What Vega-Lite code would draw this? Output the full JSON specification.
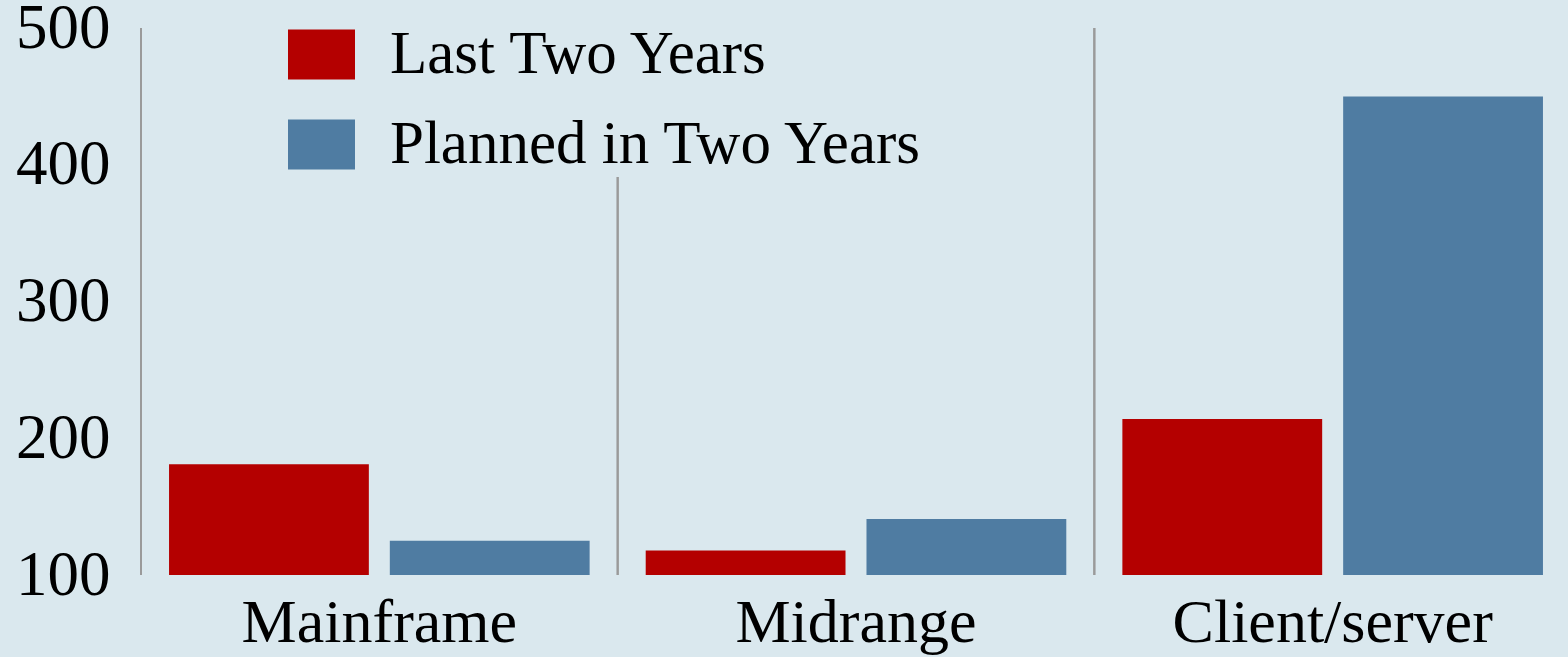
{
  "$schema": "https://vega.github.io/schema/vega-lite/v6.json",
  "autosize": "none",
  "width": 1430,
  "height": 547,
  "padding": {"left": 141, "top": 28, "right": 0, "bottom": 82},
  "background": "#dae8ee",
  "config": {
    "view": {"stroke": null},
    "font": "Liberation Serif",
    "axis": {"labelFont": "Liberation Serif", "labelColor": "#000000", "ticks": false, "domain": false, "grid": false, "title": null, "labelLimit": 1000},
    "axisX": {"labelAngle": 0, "labelFontSize": 62, "labelPadding": 17},
    "axisY": {"labelFontSize": 63, "labelPadding": 31}
  },
  "data": {
    "values": [
      {"platform": "Mainframe", "period": "Last Two Years", "value": 181},
      {"platform": "Mainframe", "period": "Planned in Two Years", "value": 125},
      {"platform": "Midrange", "period": "Last Two Years", "value": 118},
      {"platform": "Midrange", "period": "Planned in Two Years", "value": 141},
      {"platform": "Client/server", "period": "Last Two Years", "value": 214},
      {"platform": "Client/server", "period": "Planned in Two Years", "value": 450}
    ]
  },
  "layer": [
    {
      "mark": {"type": "rule", "color": "#9a9a9a", "strokeWidth": 2},
      "encoding": {
        "x": {"field": "platform", "type": "nominal", "bandPosition": 0,
              "sort": ["Mainframe", "Midrange", "Client/server"],
              "scale": {"paddingInner": 0, "paddingOuter": 0}}
      }
    },
    {
      "mark": {"type": "bar"},
      "encoding": {
        "x": {
          "field": "platform", "type": "nominal",
          "sort": ["Mainframe", "Midrange", "Client/server"],
          "scale": {"paddingInner": 0, "paddingOuter": 0}
        },
        "xOffset": {
          "field": "period", "type": "nominal",
          "sort": ["Last Two Years", "Planned in Two Years"],
          "scale": {"paddingInner": 0.095, "paddingOuter": 0.127}
        },
        "y": {
          "field": "value", "type": "quantitative",
          "scale": {"domain": [100, 500], "zero": false, "nice": false},
          "axis": {"values": [100, 200, 300, 400, 500]}
        },
        "y2": {"datum": 100},
        "color": {
          "field": "period", "type": "nominal",
          "sort": ["Last Two Years", "Planned in Two Years"],
          "scale": {"domain": ["Last Two Years", "Planned in Two Years"], "range": ["#b40000", "#4f7ca2"]},
          "legend": {
            "title": null,
            "orient": "none",
            "legendX": 145,
            "legendY": -9,
            "fillColor": "#dae8ee",
            "padding": 2,
            "symbolType": "M-1,-0.746H1V0.746H-1Z",
            "symbolSize": 4489,
            "symbolStrokeWidth": 0,
            "symbolOpacity": 1,
            "labelFontSize": 61,
            "labelFont": "Liberation Serif",
            "labelColor": "#000000",
            "labelOffset": 35,
            "rowPadding": 26,
            "labelLimit": 1000
          }
        }
      }
    }
  ]
}
